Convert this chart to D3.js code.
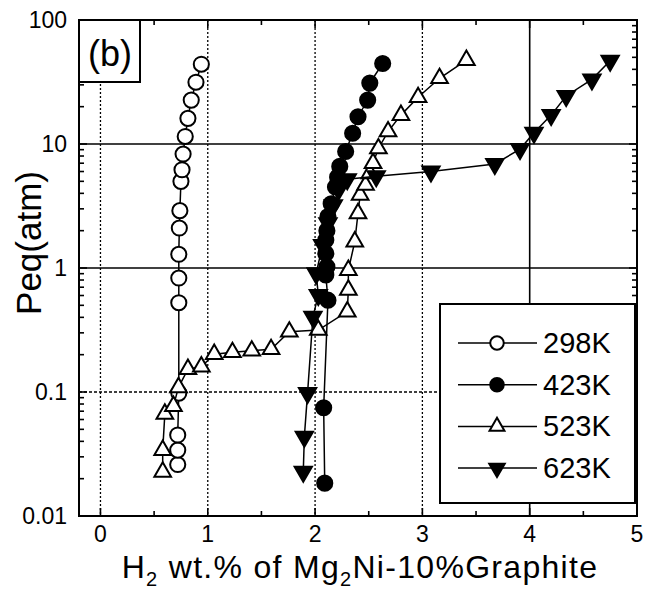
<!DOCTYPE html>
<html>
<head>
<meta charset="utf-8">
<script src="https://cdn.jsdelivr.net/npm/d3@7"></script>
<style>
  body { margin: 0; background: #fff; }
  svg text { font-family: "Liberation Sans", Arial, sans-serif; fill: #000; }
</style>
</head>
<body>
<svg id="graphe" width="663" height="591"></svg>
<script>
// ---------- données (x = wt.% H2, p = atm) ----------
var x298 = [0.72, 0.72, 0.72, 0.73, 0.73, 0.73, 0.73, 0.735, 0.74, 0.75, 0.76, 0.77, 0.79, 0.815, 0.846, 0.89, 0.94];
var p298 = [0.026, 0.034, 0.045, 0.098, 0.525, 0.83, 1.29, 2.1, 2.9, 5.0, 6.2, 8.3, 11.5, 16.1, 22.6, 31.5, 44];

var x423 = [2.09, 2.08, 2.12, 2.10, 2.11, 2.10, 2.10, 2.11, 2.12, 2.15, 2.19, 2.21, 2.23, 2.285, 2.35, 2.40, 2.49, 2.51, 2.63];
var p423 = [0.0184, 0.0747, 0.55, 0.88, 1.02, 1.31, 1.68, 2.0, 2.6, 3.3, 4.5, 5.4, 6.6, 8.7, 12.2, 16.6, 22.6, 31, 44.6];

var x523 = [0.58, 0.58, 0.60, 0.68, 0.727, 0.815, 0.94, 1.06, 1.23, 1.41, 1.59, 1.76, 2.03, 2.30, 2.31, 2.31, 2.37, 2.40, 2.42, 2.47, 2.51, 2.54, 2.59, 2.68, 2.80, 2.96, 3.16, 3.41];
var p523 = [0.0227, 0.034, 0.0665, 0.077, 0.109, 0.153, 0.16, 0.202, 0.209, 0.215, 0.221, 0.306, 0.316, 0.445, 0.665, 0.96, 1.63, 2.76, 3.88, 4.67, 5.8, 7.0, 9.2, 12.6, 17.1, 23.8, 33.9, 47.5];

var x623 = [1.89, 1.90, 1.93, 1.98, 2.03, 2.01, 2.07, 2.12, 2.17, 2.22, 2.30, 2.57, 3.08, 3.675, 3.91, 4.04, 4.20, 4.34, 4.58, 4.75];
var p623 = [0.0227, 0.0436, 0.098, 0.404, 0.605, 0.905, 1.53, 2.3, 3.2, 4.3, 5.2, 5.5, 6.0, 6.9, 9.1, 12.3, 17.1, 24.4, 33.2, 47];

var xTicks = [0, 1, 2, 3, 4, 5];
var yTicks = [0.01, 0.1, 1, 10, 100];
var yTickLabels = ["0.01", "0.1", "1", "10", "100"];
var legendLabels = ["298K", "423K", "523K", "623K"];

// ---------- échelles ----------
var gauche = 79, droite = 637, haut = 20, bas = 516;
var x = d3.scaleLinear().domain([-0.2, 5]).range([gauche, droite]);
var y = d3.scaleLog().domain([0.01, 100]).range([bas, haut]);

var svg = d3.select("#graphe");

// ---------- grille ----------
var grilleV = [{v: 0, plein: false}, {v: 1, plein: false}, {v: 2, plein: false}, {v: 3, plein: false}, {v: 4, plein: true}];
var grilleH = [{v: 0.1, plein: false}, {v: 1, plein: true}, {v: 10, plein: true}];

svg.selectAll(".gv").data(grilleV).enter().append("line")
    .attr("x1", d => x(d.v)).attr("x2", d => x(d.v))
    .attr("y1", haut).attr("y2", bas)
    .attr("stroke", "#000")
    .attr("stroke-width", d => d.plein ? 1.6 : 1.3)
    .attr("stroke-dasharray", d => d.plein ? null : "2,2");

svg.selectAll(".gh").data(grilleH).enter().append("line")
    .attr("x1", gauche).attr("x2", droite)
    .attr("y1", d => y(d.v)).attr("y2", d => y(d.v))
    .attr("stroke", "#000")
    .attr("stroke-width", d => d.plein ? 1.6 : 1.3)
    .attr("stroke-dasharray", d => d.plein ? null : "3,2");

// ---------- cadre et graduations ----------
svg.append("rect")
    .attr("x", gauche).attr("y", haut)
    .attr("width", droite - gauche).attr("height", bas - haut)
    .attr("fill", "none").attr("stroke", "#000").attr("stroke-width", 2);

var ticksX = d3.range(0, 5.01, 0.5);
ticksX.forEach(function (t) {
    var long = (t % 1 === 0) ? 8 : 5;
    svg.append("line").attr("x1", x(t)).attr("x2", x(t)).attr("y1", bas).attr("y2", bas - long)
        .attr("stroke", "#000").attr("stroke-width", 1.6);
    svg.append("line").attr("x1", x(t)).attr("x2", x(t)).attr("y1", haut).attr("y2", haut + long)
        .attr("stroke", "#000").attr("stroke-width", 1.6);
});

var ticksY = [];
[0.01, 0.1, 1, 10].forEach(function (dec) {
    for (var k = 1; k < 10; k++) ticksY.push({v: dec * k, major: k === 1});
});
ticksY.push({v: 100, major: true});
ticksY.forEach(function (t) {
    var long = t.major ? 8 : 5;
    svg.append("line").attr("x1", gauche).attr("x2", gauche + long).attr("y1", y(t.v)).attr("y2", y(t.v))
        .attr("stroke", "#000").attr("stroke-width", 1.6);
    svg.append("line").attr("x1", droite).attr("x2", droite - long).attr("y1", y(t.v)).attr("y2", y(t.v))
        .attr("stroke", "#000").attr("stroke-width", 1.6);
});

// étiquettes des axes
svg.selectAll(".lx").data(xTicks).enter().append("text")
    .attr("x", d => x(d)).attr("y", 542)
    .attr("text-anchor", "middle").attr("font-size", 23)
    .text(d => d);

svg.selectAll(".ly").data(yTicks).enter().append("text")
    .attr("x", 67).attr("y", d => y(d) + 8)
    .attr("text-anchor", "end").attr("font-size", 23)
    .text((d, i) => yTickLabels[i]);

var titreX = svg.append("text").attr("x", 360).attr("y", 578)
    .attr("text-anchor", "middle").attr("font-size", 32)
    .attr("letter-spacing", 1.3);
titreX.append("tspan").text("H");
titreX.append("tspan").attr("font-size", 20).attr("dy", 8).text("2");
titreX.append("tspan").attr("dy", -8).text(" wt.% of Mg");
titreX.append("tspan").attr("font-size", 20).attr("dy", 8).text("2");
titreX.append("tspan").attr("dy", -8).text("Ni-10%Graphite");

svg.append("text")
    .attr("transform", "translate(41,243) rotate(-90)")
    .attr("text-anchor", "middle").attr("font-size", 35)
    .text("Peq(atm)");

// ---------- séries ----------
var series = [
    {xs: x298, ps: p298, forme: d3.symbolCircle, taille: 180, rot: 0, plein: false},
    {xs: x423, ps: p423, forme: d3.symbolCircle, taille: 180, rot: 0, plein: true},
    {xs: x523, ps: p523, forme: d3.symbolTriangle, taille: 120, rot: 0, plein: false},
    {xs: x623, ps: p623, forme: d3.symbolTriangle, taille: 130, rot: 180, plein: true}
];

var ligne = d3.line().x(d => x(d[0])).y(d => y(d[1]));

series.forEach(function (s) {
    var pts = s.xs.map((v, i) => [v, s.ps[i]]);
    svg.append("path").attr("d", ligne(pts))
        .attr("fill", "none").attr("stroke", "#000").attr("stroke-width", 1.5);
    svg.selectAll(null).data(pts).enter().append("path")
        .attr("d", d3.symbol().type(s.forme).size(s.taille))
        .attr("transform", d => "translate(" + x(d[0]) + "," + y(d[1]) + ") rotate(" + s.rot + ")")
        .attr("fill", s.plein ? "#000" : "#fff")
        .attr("stroke", "#000").attr("stroke-width", 2);
});

// ---------- cartouche (b) ----------
svg.append("rect").attr("x", gauche).attr("y", haut).attr("width", 61).attr("height", 62)
    .attr("fill", "#fff").attr("stroke", "#000").attr("stroke-width", 2);
svg.append("text").attr("x", 110).attr("y", 66).attr("text-anchor", "middle")
    .attr("font-size", 36).text("(b)");

// ---------- légende ----------
var leg = svg.append("g");
leg.append("rect").attr("x", 440).attr("y", 304).attr("width", 195).attr("height", 199)
    .attr("fill", "#fff").attr("stroke", "#000").attr("stroke-width", 2);
legendLabels.forEach(function (lab, i) {
    var s = series[i];
    var ly = 343 + i * 41.7;
    leg.append("line").attr("x1", 458).attr("x2", 537).attr("y1", ly).attr("y2", ly)
        .attr("stroke", "#000").attr("stroke-width", 1.5);
    leg.append("path")
        .attr("d", d3.symbol().type(s.forme).size(s.taille * 0.8))
        .attr("transform", "translate(497," + ly + ") rotate(" + s.rot + ")")
        .attr("fill", s.plein ? "#000" : "#fff")
        .attr("stroke", "#000").attr("stroke-width", 2);
    leg.append("text").attr("x", 543).attr("y", ly + 10)
        .attr("font-size", 29).text(lab);
});
</script>
</body>
</html>
